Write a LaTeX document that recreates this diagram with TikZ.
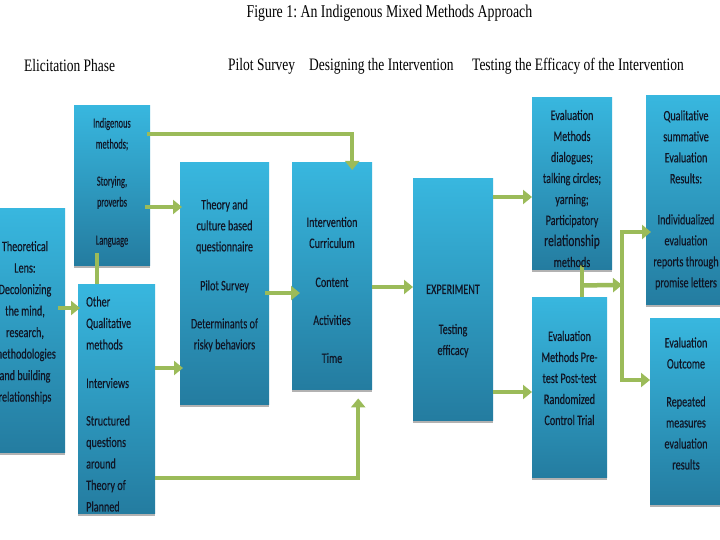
\documentclass[tikz,border=0pt]{standalone}
\usepackage{fontspec}
\newfontfamily\hdrfont[FakeStretch=0.77]{Liberation Serif}
\newfontfamily\bxfont[FakeStretch=0.7,FakeBold=0.3]{Carlito}
\newfontfamily\bxnarrow[FakeStretch=0.6,FakeBold=0.3]{Carlito}
\usetikzlibrary{arrows.meta,shadows}
\definecolor{boxtop}{RGB}{56,183,223}
\definecolor{boxbot}{RGB}{36,124,160}
\definecolor{garr}{RGB}{155,187,89}
\definecolor{txt}{RGB}{16,22,38}
\frenchspacing
\begin{document}
\begin{tikzpicture}[x=1pt,y=-1pt,
 bluebox/.style={rectangle, inner sep=0pt, draw=none, top color=boxtop, bottom color=boxbot, anchor=north west,
   drop shadow={shadow xshift=0pt, shadow yshift=-3pt, fill=black!30, opacity=1}},
 btext/.style={inner sep=0pt, align=center, text=txt, font=\bxfont\fontsize{14.5}{21}\selectfont},
 garrow/.style={draw=garr, line width=4.5pt, -{Triangle[length=9pt,width=14pt]}},
 gline/.style={draw=garr, line width=4.5pt},
 hdr/.style={inner sep=0pt, font=\hdrfont\fontsize{17.5}{20}\selectfont, anchor=west}]
\fill[white] (0,0) rectangle (720,540);
\useasboundingbox (0,0) rectangle (720,540);

% title and headers
\node[inner sep=0pt, font=\hdrfont\fontsize{18}{21}\selectfont] (title) at (389.5,13) {Figure 1: An Indigenous Mixed Methods Approach};
\node[hdr] (h1) at (24,66) {Elicitation Phase};
\node[hdr] (h2) at (228,66) {Pilot Survey};
\node[hdr] (h3) at (309,66) {Designing the Intervention};
\node[hdr] (h4) at (472,66) {Testing the Efficacy of the Intervention};

% boxes
\node[bluebox, minimum width=80pt, minimum height=244pt] (theo) at (-15,208) {};
\node[bluebox, minimum width=76pt, minimum height=160pt] (indig) at (74,105) {};
\node[bluebox, minimum width=77pt, minimum height=229pt] (other) at (78,284) {};
\node[bluebox, minimum width=89pt, minimum height=242pt] (theory) at (180,162) {};
\node[bluebox, minimum width=80pt, minimum height=227pt] (interv) at (292,162) {};
\node[bluebox, minimum width=80pt, minimum height=242pt] (expt) at (413,178) {};
\node[bluebox, minimum width=80pt, minimum height=172pt] (evalm) at (532,97) {};
\node[bluebox, minimum width=75pt, minimum height=180pt] (pret) at (532,297) {};
\node[bluebox, minimum width=80pt, minimum height=209pt] (qual) at (646,95) {};
\node[bluebox, minimum width=76pt, minimum height=186pt] (outc) at (650,318) {};

% connectors
\draw[garrow] ([xshift=-3pt,yshift=-29pt]indig.north east) -| ([xshift=20pt,yshift=-8pt]interv.north);
\draw[garrow] ([xshift=-5pt,yshift=-102pt]indig.north east) -- ([xshift=2pt,yshift=-45pt]theory.north west);
\draw[gline] ([xshift=-15pt,yshift=12pt]indig.south) -- ([xshift=-19.5pt]other.north);
\draw[garrow] ([xshift=-7pt,yshift=-100pt]theo.north east) -- ([xshift=2pt,yshift=-24pt]other.north west);
\draw[garrow] ([yshift=-84pt]other.north east) -- ([xshift=3pt,yshift=-206pt]theory.north west);
\draw[garrow] ([yshift=-194pt]other.north east) -| ([xshift=26pt,yshift=-9pt]interv.south);
\draw[garrow] ([xshift=-4pt,yshift=-131pt]theory.north east) -- ([xshift=8pt,yshift=-131pt]interv.north west);
\draw[garrow] ([yshift=-125pt]interv.north east) -- ([yshift=-109pt]expt.north west);
\draw[garrow] ([yshift=-19pt]expt.north east) -- ([yshift=-100pt]evalm.north west);
\draw[garrow] ([yshift=-214pt]expt.north east) -- ([yshift=-95pt]pret.north west);
\draw[gline] ([xshift=10pt,yshift=4pt]evalm.south) -- ([xshift=12.5pt]pret.north);
\coordinate (barT) at (622,232);
\coordinate (barM) at (622,285);
\coordinate (barB) at (622,380);
\draw[gline] (barT) -- (barB);
\draw[garrow] ([xshift=10pt,yshift=-16pt]evalm.south) -- (barM);
\draw[garrow] ([xshift=-2pt]barT) -- ([xshift=5pt,yshift=-137pt]qual.north west);
\draw[garrow] ([xshift=-2pt]barB) -- ([xshift=0pt,yshift=-62pt]outc.north west);

% texts
\node[btext, font=\bxnarrow\fontsize{14}{21}\selectfont] (indigT) at (112,182.5) {Indigenous\\ methods;\\[16pt] Storying,\\ proverbs\\[17pt] Language};
\node[btext, font=\bxfont\fontsize{14.5}{21.5}\selectfont] (theoT) at (25,322.5) {Theoretical\\ Lens:\\ Decolonizing\\ the mind,\\ research,\\ methodologies\\ and building\\ relationships};
\begin{scope}
\clip (other.north west) rectangle (other.south east);
\node[btext, align=left, anchor=west, font=\bxfont\fontsize{14.5}{21.5}\selectfont] (otherT) at (86,404) {Other\\ Qualitative\\ methods\\[17pt] Interviews\\[16pt] Structured\\ questions\\ around\\ Theory of\\ Planned};
\end{scope}
\node[btext] (theoryT) at (224.5,275.5) {Theory and\\ culture based\\ questionnaire\\[18pt] Pilot Survey\\[17pt] Determinants of\\ risky behaviors};
\node[btext] (intervT) at (332,290) {Intervention\\ Curriculum\\[18pt] Content\\[17pt] Activities\\[17pt] Time};
\node[btext] (exptT) at (453,321) {EXPERIMENT\\[19pt] Testing\\ efficacy};
\begin{scope}
\clip (evalm.north west) rectangle (evalm.south east);
\node[btext] (evalmT) at (572,188.5) {Evaluation\\ Methods\\ dialogues;\\ talking circles;\\ yarning;\\ Participatory\\ {\fontsize{16.5}{21}\selectfont relationship}\\ methods};
\end{scope}
\node[btext] (pretT) at (569.5,378) {Evaluation\\ Methods Pre-\\ test Post-test\\ Randomized\\ Control Trial};
\node[btext] (qualT) at (686,200) {Qualitative\\ summative\\ Evaluation\\ Results:\\[20pt] Individualized\\ evaluation\\ reports through\\ promise letters};
\node[btext] (outcT) at (686,403.5) {Evaluation\\ Outcome\\[17pt] Repeated\\ measures\\ evaluation\\ results};
\end{tikzpicture}
\end{document}
